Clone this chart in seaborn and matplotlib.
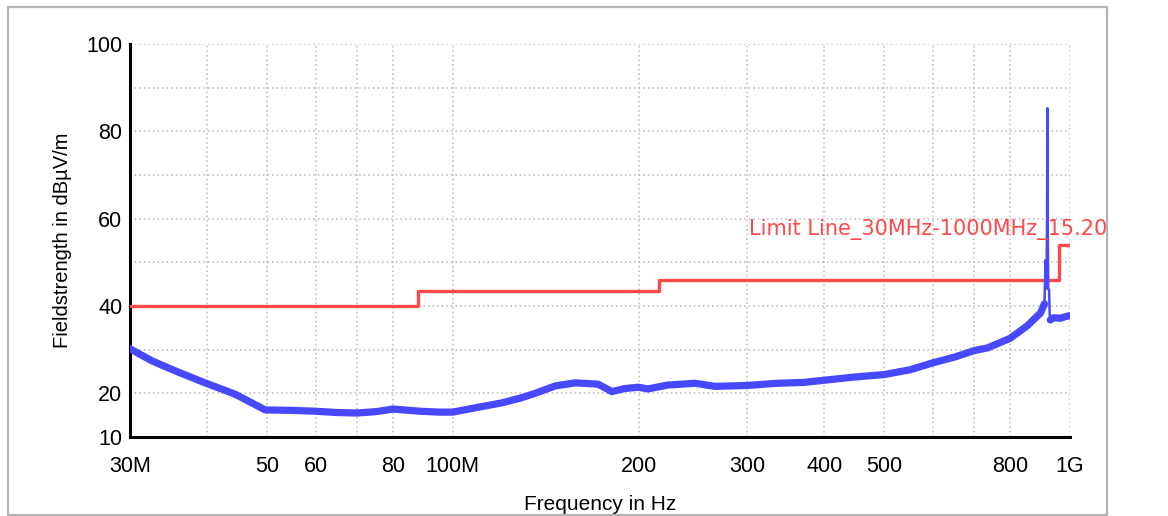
import matplotlib
matplotlib.use("Agg")
import matplotlib.pyplot as plt
import matplotlib.ticker as mticker
from matplotlib.patches import Rectangle
import seaborn as sns
import pandas as pd

# ---- data (frequency in MHz, level in dBµV/m) ----
trace_freq = [30, 32.6, 36, 39.7, 44.4, 49.7, 54.9, 60, 65, 70, 75, 80, 88.5, 95, 100,
              110.8, 120, 128.6, 136, 146.6, 157.9, 172, 181, 190, 200, 207, 223, 247,
              266, 300, 335, 370, 400, 445, 500, 551, 600, 650, 700, 735, 800, 853,
              896, 909]
trace_level = [30.2, 27.4, 24.8, 22.4, 19.8, 16.2, 16.1, 15.9, 15.6, 15.5, 15.8, 16.4,
               15.9, 15.7, 15.7, 16.9, 17.8, 18.9, 20.0, 21.7, 22.4, 22.1, 20.4, 21.1,
               21.4, 21.0, 21.9, 22.3, 21.6, 21.8, 22.3, 22.5, 23.0, 23.7, 24.3, 25.4,
               27.0, 28.3, 29.8, 30.4, 32.6, 35.5, 38.4, 40.5]

spike_freq = [909, 913, 916, 918, 919, 920, 922, 925, 927, 929]
spike_level = [40.5, 50.5, 44.0, 60.0, 85.3, 60.0, 44.0, 43.7, 38.0, 36.8]

tail_freq = [929, 940, 965, 985, 1000]
tail_level = [36.8, 37.3, 37.2, 37.6, 37.8]

limit_freq = [30, 88, 216, 960, 1000]
limit_level = [40, 43.5, 46, 54, 54]
limit_label = "Limit Line_30MHz-1000MHz_15.20"

x_ticks = [30, 40, 50, 60, 70, 80, 100, 200, 300, 400, 500, 600, 700, 800, 1000]
x_tick_labels = ["30M", "", "50", "60", "", "80", "100M", "200", "300", "400", "500",
                 "", "", "800", "1G"]
y_ticks = [10, 20, 30, 40, 50, 60, 70, 80, 90, 100]
y_tick_labels = ["10", "20", "", "40", "", "60", "", "80", "", "100"]

# ---- styling ----
sns.set_theme(style="white")
plt.rcParams["font.family"] = ["Liberation Sans", "DejaVu Sans"]

BLUE = "#4848ff"
RED = "#ff4848"

fig = plt.figure(figsize=(11.68, 5.16), dpi=100)
ax = fig.add_axes([130 / 1168, 1 - 437 / 516, 940 / 1168, 393 / 516])

df_trace = pd.DataFrame({"f": trace_freq, "lvl": trace_level})
df_spike = pd.DataFrame({"f": spike_freq, "lvl": spike_level})
df_tail = pd.DataFrame({"f": tail_freq, "lvl": tail_level})
df_limit = pd.DataFrame({"f": limit_freq, "lvl": limit_level})

sns.lineplot(data=df_limit, x="f", y="lvl", ax=ax, color=RED, linewidth=2.4,
             drawstyle="steps-post", estimator=None, sort=False, zorder=3)
sns.lineplot(data=df_trace, x="f", y="lvl", ax=ax, color=BLUE, linewidth=5.2,
             estimator=None, sort=False, zorder=4)
sns.lineplot(data=df_tail, x="f", y="lvl", ax=ax, color=BLUE, linewidth=5.2,
             estimator=None, sort=False, zorder=4)
sns.lineplot(data=df_spike, x="f", y="lvl", ax=ax, color=BLUE, linewidth=1.8,
             estimator=None, sort=False, zorder=5)

ax.set_xscale("log")
ax.set_xlim(30, 1000)
ax.set_ylim(10, 100)

ax.xaxis.set_major_locator(mticker.FixedLocator(x_ticks))
ax.xaxis.set_minor_locator(mticker.NullLocator())
ax.set_xticks(x_ticks)
ax.set_xticklabels(x_tick_labels)
ax.set_yticks(y_ticks)
ax.set_yticklabels(y_tick_labels)

ax.grid(True, which="major", color="#b8b8b8", linestyle=(0, (1, 2)), linewidth=1.1)
for s in ["top", "right"]:
    ax.spines[s].set_visible(False)
for s in ["left", "bottom"]:
    ax.spines[s].set_color("black")
    ax.spines[s].set_linewidth(2.2)

ax.tick_params(axis="both", which="major", direction="inout", length=9, width=1.6,
               color="black", labelsize=15.5, labelcolor="black")
ax.tick_params(axis="x", pad=9)
ax.tick_params(axis="y", pad=1)

ax.set_xlabel("Frequency in Hz", fontsize=15, labelpad=13, color="black")
ax.set_ylabel("Fieldstrength in dBµV/m", fontsize=14.5, labelpad=10, color="black")

ax.text(589, 57.6, limit_label, color=RED, fontsize=15, ha="center", va="center",
        family=["DejaVu Sans"], clip_on=False, zorder=6)

fig.patches.append(Rectangle((8 / 1168, 1 / 516), 1099 / 1168, 508 / 516,
                             transform=fig.transFigure, fill=False,
                             edgecolor="#b4b4b4", linewidth=1.6))

fig.savefig("out.png", dpi=100, facecolor="white")
